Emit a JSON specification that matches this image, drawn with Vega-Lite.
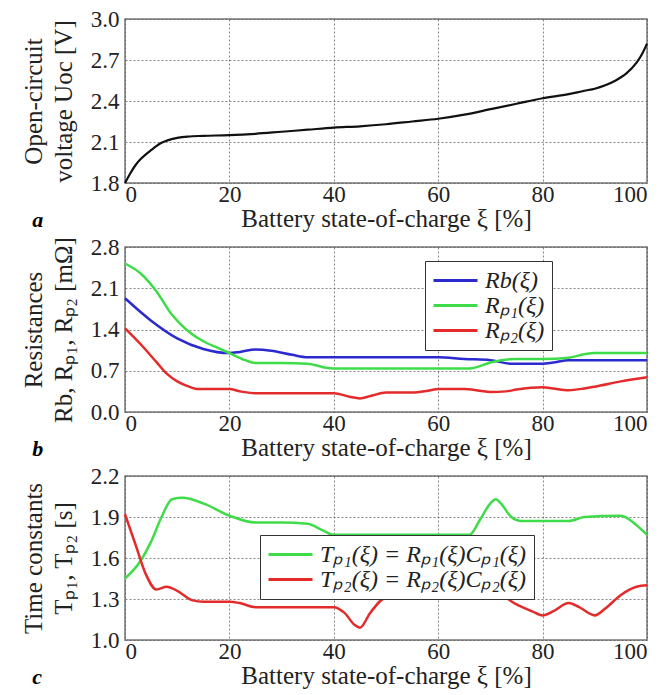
{
  "$schema": "https://vega.github.io/schema/vega-lite/v6.json",
  "padding": {"left": 20, "top": 7, "right": 10, "bottom": 0},
  "spacing": 3,
  "resolve": {"scale": {"color": "independent"}, "legend": {"color": "independent"}},
  "config": {
    "font": "Liberation Serif",
    "view": {"stroke": "#777", "strokeWidth": 1.5},
    "axis": {
      "labelFont": "Liberation Serif", "titleFont": "Liberation Serif",
      "labelFontSize": 23, "titleFontSize": 25, "titleFontWeight": "normal",
      "labelColor": "#222", "titleColor": "#222",
      "gridColor": "#555", "gridDash": [2, 2], "gridOpacity": 0.7,
      "domain": false, "ticks": false, "labelPadding": 4
    },
    "axisX": {"labelPadding": 0, "titlePadding": 0},
    "axisY": {"labelPadding": 6, "titlePadding": 14, "titleLineHeight": 30},
    "legend": {"labelFont": "Liberation Serif", "labelFontSize": 24, "labelFontStyle": "italic", "labelColor": "#222"},
    "title": {"font": "Liberation Serif"}
  },
  "datasets": {
    "uoc": [
      {"x": 0, "y": 1.8}, {"x": 1, "y": 1.87}, {"x": 2, "y": 1.93}, {"x": 3, "y": 1.975}, {"x": 4, "y": 2.01}, {"x": 5, "y": 2.04}, {"x": 6, "y": 2.07}, {"x": 7, "y": 2.095}, {"x": 8, "y": 2.11}, {"x": 10, "y": 2.13}, {"x": 12, "y": 2.14}, {"x": 15, "y": 2.145}, {"x": 20, "y": 2.15}, {"x": 25, "y": 2.16}, {"x": 30, "y": 2.175}, {"x": 35, "y": 2.19}, {"x": 40, "y": 2.205}, {"x": 45, "y": 2.215}, {"x": 50, "y": 2.23}, {"x": 55, "y": 2.25}, {"x": 60, "y": 2.27}, {"x": 65, "y": 2.3}, {"x": 70, "y": 2.34}, {"x": 75, "y": 2.38}, {"x": 80, "y": 2.42}, {"x": 85, "y": 2.45}, {"x": 88, "y": 2.475}, {"x": 90, "y": 2.49}, {"x": 92, "y": 2.515}, {"x": 94, "y": 2.55}, {"x": 96, "y": 2.6}, {"x": 98, "y": 2.68}, {"x": 99, "y": 2.74}, {"x": 100, "y": 2.82}
    ],
    "res": [
      {"x": 0, "y": 1.93, "s": "Rb(ξ)"}, {"x": 5, "y": 1.55, "s": "Rb(ξ)"}, {"x": 10, "y": 1.25, "s": "Rb(ξ)"}, {"x": 15, "y": 1.07, "s": "Rb(ξ)"}, {"x": 20, "y": 1.0, "s": "Rb(ξ)"}, {"x": 22, "y": 1.02, "s": "Rb(ξ)"}, {"x": 25, "y": 1.06, "s": "Rb(ξ)"}, {"x": 28, "y": 1.04, "s": "Rb(ξ)"}, {"x": 32, "y": 0.97, "s": "Rb(ξ)"}, {"x": 35, "y": 0.93, "s": "Rb(ξ)"}, {"x": 40, "y": 0.93, "s": "Rb(ξ)"}, {"x": 60, "y": 0.93, "s": "Rb(ξ)"}, {"x": 65, "y": 0.9, "s": "Rb(ξ)"}, {"x": 70, "y": 0.88, "s": "Rb(ξ)"}, {"x": 74, "y": 0.82, "s": "Rb(ξ)"}, {"x": 80, "y": 0.82, "s": "Rb(ξ)"}, {"x": 82, "y": 0.84, "s": "Rb(ξ)"}, {"x": 85, "y": 0.88, "s": "Rb(ξ)"}, {"x": 90, "y": 0.88, "s": "Rb(ξ)"}, {"x": 100, "y": 0.88, "s": "Rb(ξ)"},
      {"x": 0, "y": 2.52, "s": "Rₚ₁(ξ)"}, {"x": 3, "y": 2.35, "s": "Rₚ₁(ξ)"}, {"x": 6, "y": 2.05, "s": "Rₚ₁(ξ)"}, {"x": 9, "y": 1.65, "s": "Rₚ₁(ξ)"}, {"x": 12, "y": 1.38, "s": "Rₚ₁(ξ)"}, {"x": 15, "y": 1.2, "s": "Rₚ₁(ξ)"}, {"x": 18, "y": 1.08, "s": "Rₚ₁(ξ)"}, {"x": 20, "y": 1.0, "s": "Rₚ₁(ξ)"}, {"x": 23, "y": 0.88, "s": "Rₚ₁(ξ)"}, {"x": 25, "y": 0.83, "s": "Rₚ₁(ξ)"}, {"x": 30, "y": 0.83, "s": "Rₚ₁(ξ)"}, {"x": 35, "y": 0.82, "s": "Rₚ₁(ξ)"}, {"x": 38, "y": 0.76, "s": "Rₚ₁(ξ)"}, {"x": 40, "y": 0.74, "s": "Rₚ₁(ξ)"}, {"x": 60, "y": 0.74, "s": "Rₚ₁(ξ)"}, {"x": 66, "y": 0.74, "s": "Rₚ₁(ξ)"}, {"x": 70, "y": 0.84, "s": "Rₚ₁(ξ)"}, {"x": 72, "y": 0.88, "s": "Rₚ₁(ξ)"}, {"x": 75, "y": 0.9, "s": "Rₚ₁(ξ)"}, {"x": 80, "y": 0.9, "s": "Rₚ₁(ξ)"}, {"x": 85, "y": 0.92, "s": "Rₚ₁(ξ)"}, {"x": 88, "y": 0.98, "s": "Rₚ₁(ξ)"}, {"x": 90, "y": 1.0, "s": "Rₚ₁(ξ)"}, {"x": 100, "y": 1.0, "s": "Rₚ₁(ξ)"},
      {"x": 0, "y": 1.42, "s": "Rₚ₂(ξ)"}, {"x": 3, "y": 1.15, "s": "Rₚ₂(ξ)"}, {"x": 6, "y": 0.85, "s": "Rₚ₂(ξ)"}, {"x": 8, "y": 0.65, "s": "Rₚ₂(ξ)"}, {"x": 10, "y": 0.52, "s": "Rₚ₂(ξ)"}, {"x": 12, "y": 0.44, "s": "Rₚ₂(ξ)"}, {"x": 14, "y": 0.39, "s": "Rₚ₂(ξ)"}, {"x": 20, "y": 0.39, "s": "Rₚ₂(ξ)"}, {"x": 22, "y": 0.35, "s": "Rₚ₂(ξ)"}, {"x": 25, "y": 0.32, "s": "Rₚ₂(ξ)"}, {"x": 40, "y": 0.32, "s": "Rₚ₂(ξ)"}, {"x": 43, "y": 0.26, "s": "Rₚ₂(ξ)"}, {"x": 45, "y": 0.23, "s": "Rₚ₂(ξ)"}, {"x": 47, "y": 0.27, "s": "Rₚ₂(ξ)"}, {"x": 50, "y": 0.33, "s": "Rₚ₂(ξ)"}, {"x": 55, "y": 0.33, "s": "Rₚ₂(ξ)"}, {"x": 58, "y": 0.36, "s": "Rₚ₂(ξ)"}, {"x": 60, "y": 0.39, "s": "Rₚ₂(ξ)"}, {"x": 65, "y": 0.39, "s": "Rₚ₂(ξ)"}, {"x": 68, "y": 0.36, "s": "Rₚ₂(ξ)"}, {"x": 70, "y": 0.34, "s": "Rₚ₂(ξ)"}, {"x": 73, "y": 0.35, "s": "Rₚ₂(ξ)"}, {"x": 75, "y": 0.38, "s": "Rₚ₂(ξ)"}, {"x": 80, "y": 0.42, "s": "Rₚ₂(ξ)"}, {"x": 82, "y": 0.4, "s": "Rₚ₂(ξ)"}, {"x": 85, "y": 0.37, "s": "Rₚ₂(ξ)"}, {"x": 88, "y": 0.4, "s": "Rₚ₂(ξ)"}, {"x": 90, "y": 0.43, "s": "Rₚ₂(ξ)"}, {"x": 95, "y": 0.52, "s": "Rₚ₂(ξ)"}, {"x": 100, "y": 0.59, "s": "Rₚ₂(ξ)"}
    ],
    "tc": [
      {"x": 0, "y": 1.45, "s": "Tₚ₁(ξ) = Rₚ₁(ξ)Cₚ₁(ξ)"}, {"x": 3, "y": 1.58, "s": "Tₚ₁(ξ) = Rₚ₁(ξ)Cₚ₁(ξ)"}, {"x": 5, "y": 1.72, "s": "Tₚ₁(ξ) = Rₚ₁(ξ)Cₚ₁(ξ)"}, {"x": 7, "y": 1.9, "s": "Tₚ₁(ξ) = Rₚ₁(ξ)Cₚ₁(ξ)"}, {"x": 9, "y": 2.03, "s": "Tₚ₁(ξ) = Rₚ₁(ξ)Cₚ₁(ξ)"}, {"x": 11, "y": 2.04, "s": "Tₚ₁(ξ) = Rₚ₁(ξ)Cₚ₁(ξ)"}, {"x": 15, "y": 2.0, "s": "Tₚ₁(ξ) = Rₚ₁(ξ)Cₚ₁(ξ)"}, {"x": 20, "y": 1.91, "s": "Tₚ₁(ξ) = Rₚ₁(ξ)Cₚ₁(ξ)"}, {"x": 25, "y": 1.86, "s": "Tₚ₁(ξ) = Rₚ₁(ξ)Cₚ₁(ξ)"}, {"x": 30, "y": 1.86, "s": "Tₚ₁(ξ) = Rₚ₁(ξ)Cₚ₁(ξ)"}, {"x": 35, "y": 1.85, "s": "Tₚ₁(ξ) = Rₚ₁(ξ)Cₚ₁(ξ)"}, {"x": 38, "y": 1.8, "s": "Tₚ₁(ξ) = Rₚ₁(ξ)Cₚ₁(ξ)"}, {"x": 40, "y": 1.77, "s": "Tₚ₁(ξ) = Rₚ₁(ξ)Cₚ₁(ξ)"}, {"x": 60, "y": 1.77, "s": "Tₚ₁(ξ) = Rₚ₁(ξ)Cₚ₁(ξ)"}, {"x": 66, "y": 1.77, "s": "Tₚ₁(ξ) = Rₚ₁(ξ)Cₚ₁(ξ)"}, {"x": 68, "y": 1.88, "s": "Tₚ₁(ξ) = Rₚ₁(ξ)Cₚ₁(ξ)"}, {"x": 70, "y": 2.0, "s": "Tₚ₁(ξ) = Rₚ₁(ξ)Cₚ₁(ξ)"}, {"x": 71, "y": 2.03, "s": "Tₚ₁(ξ) = Rₚ₁(ξ)Cₚ₁(ξ)"}, {"x": 72, "y": 2.0, "s": "Tₚ₁(ξ) = Rₚ₁(ξ)Cₚ₁(ξ)"}, {"x": 74, "y": 1.9, "s": "Tₚ₁(ξ) = Rₚ₁(ξ)Cₚ₁(ξ)"}, {"x": 76, "y": 1.87, "s": "Tₚ₁(ξ) = Rₚ₁(ξ)Cₚ₁(ξ)"}, {"x": 85, "y": 1.87, "s": "Tₚ₁(ξ) = Rₚ₁(ξ)Cₚ₁(ξ)"}, {"x": 88, "y": 1.9, "s": "Tₚ₁(ξ) = Rₚ₁(ξ)Cₚ₁(ξ)"}, {"x": 95, "y": 1.91, "s": "Tₚ₁(ξ) = Rₚ₁(ξ)Cₚ₁(ξ)"}, {"x": 98, "y": 1.84, "s": "Tₚ₁(ξ) = Rₚ₁(ξ)Cₚ₁(ξ)"}, {"x": 100, "y": 1.77, "s": "Tₚ₁(ξ) = Rₚ₁(ξ)Cₚ₁(ξ)"},
      {"x": 0, "y": 1.92, "s": "Tₚ₂(ξ) = Rₚ₂(ξ)Cₚ₂(ξ)"}, {"x": 2, "y": 1.7, "s": "Tₚ₂(ξ) = Rₚ₂(ξ)Cₚ₂(ξ)"}, {"x": 4, "y": 1.48, "s": "Tₚ₂(ξ) = Rₚ₂(ξ)Cₚ₂(ξ)"}, {"x": 6, "y": 1.37, "s": "Tₚ₂(ξ) = Rₚ₂(ξ)Cₚ₂(ξ)"}, {"x": 8, "y": 1.39, "s": "Tₚ₂(ξ) = Rₚ₂(ξ)Cₚ₂(ξ)"}, {"x": 10, "y": 1.36, "s": "Tₚ₂(ξ) = Rₚ₂(ξ)Cₚ₂(ξ)"}, {"x": 13, "y": 1.29, "s": "Tₚ₂(ξ) = Rₚ₂(ξ)Cₚ₂(ξ)"}, {"x": 15, "y": 1.28, "s": "Tₚ₂(ξ) = Rₚ₂(ξ)Cₚ₂(ξ)"}, {"x": 20, "y": 1.28, "s": "Tₚ₂(ξ) = Rₚ₂(ξ)Cₚ₂(ξ)"}, {"x": 22, "y": 1.27, "s": "Tₚ₂(ξ) = Rₚ₂(ξ)Cₚ₂(ξ)"}, {"x": 25, "y": 1.24, "s": "Tₚ₂(ξ) = Rₚ₂(ξ)Cₚ₂(ξ)"}, {"x": 40, "y": 1.24, "s": "Tₚ₂(ξ) = Rₚ₂(ξ)Cₚ₂(ξ)"}, {"x": 42, "y": 1.2, "s": "Tₚ₂(ξ) = Rₚ₂(ξ)Cₚ₂(ξ)"}, {"x": 44, "y": 1.11, "s": "Tₚ₂(ξ) = Rₚ₂(ξ)Cₚ₂(ξ)"}, {"x": 45, "y": 1.09, "s": "Tₚ₂(ξ) = Rₚ₂(ξ)Cₚ₂(ξ)"}, {"x": 47, "y": 1.2, "s": "Tₚ₂(ξ) = Rₚ₂(ξ)Cₚ₂(ξ)"}, {"x": 50, "y": 1.31, "s": "Tₚ₂(ξ) = Rₚ₂(ξ)Cₚ₂(ξ)"}, {"x": 55, "y": 1.32, "s": "Tₚ₂(ξ) = Rₚ₂(ξ)Cₚ₂(ξ)"}, {"x": 60, "y": 1.33, "s": "Tₚ₂(ξ) = Rₚ₂(ξ)Cₚ₂(ξ)"}, {"x": 65, "y": 1.33, "s": "Tₚ₂(ξ) = Rₚ₂(ξ)Cₚ₂(ξ)"}, {"x": 70, "y": 1.35, "s": "Tₚ₂(ξ) = Rₚ₂(ξ)Cₚ₂(ξ)"}, {"x": 72, "y": 1.33, "s": "Tₚ₂(ξ) = Rₚ₂(ξ)Cₚ₂(ξ)"}, {"x": 75, "y": 1.26, "s": "Tₚ₂(ξ) = Rₚ₂(ξ)Cₚ₂(ξ)"}, {"x": 78, "y": 1.21, "s": "Tₚ₂(ξ) = Rₚ₂(ξ)Cₚ₂(ξ)"}, {"x": 80, "y": 1.18, "s": "Tₚ₂(ξ) = Rₚ₂(ξ)Cₚ₂(ξ)"}, {"x": 82, "y": 1.21, "s": "Tₚ₂(ξ) = Rₚ₂(ξ)Cₚ₂(ξ)"}, {"x": 85, "y": 1.27, "s": "Tₚ₂(ξ) = Rₚ₂(ξ)Cₚ₂(ξ)"}, {"x": 87, "y": 1.24, "s": "Tₚ₂(ξ) = Rₚ₂(ξ)Cₚ₂(ξ)"}, {"x": 90, "y": 1.18, "s": "Tₚ₂(ξ) = Rₚ₂(ξ)Cₚ₂(ξ)"}, {"x": 92, "y": 1.23, "s": "Tₚ₂(ξ) = Rₚ₂(ξ)Cₚ₂(ξ)"}, {"x": 95, "y": 1.33, "s": "Tₚ₂(ξ) = Rₚ₂(ξ)Cₚ₂(ξ)"}, {"x": 98, "y": 1.39, "s": "Tₚ₂(ξ) = Rₚ₂(ξ)Cₚ₂(ξ)"}, {"x": 100, "y": 1.4, "s": "Tₚ₂(ξ) = Rₚ₂(ξ)Cₚ₂(ξ)"}
    ]
  },
  "vconcat": [
    {
      "width": 522, "height": 164,
      "title": {"text": "a", "orient": "bottom", "anchor": "start", "frame": "bounds", "fontSize": 22, "fontStyle": "italic", "fontWeight": "bold", "dx": 11, "offset": -21},
      "data": {"name": "uoc"},
      "mark": {"type": "line", "color": "#111", "strokeWidth": 2.2, "interpolate": "monotone"},
      "encoding": {
        "x": {"field": "x", "type": "quantitative", "scale": {"domain": [0, 100], "nice": false}, "axis": {"values": [0, 20, 40, 60, 80, 100], "title": "Battery state-of-charge ξ [%]"}},
        "y": {"field": "y", "type": "quantitative", "scale": {"domain": [1.8, 3.0], "nice": false, "zero": false}, "axis": {"values": [1.8, 2.1, 2.4, 2.7, 3.0], "format": ".1f", "title": ["Open-circuit", "voltage Uoc [V]"]}}
      }
    },
    {
      "width": 522, "height": 165,
      "title": {"text": "b", "orient": "bottom", "anchor": "start", "frame": "bounds", "fontSize": 22, "fontStyle": "italic", "fontWeight": "bold", "dx": 11, "offset": -21},
      "data": {"name": "res"},
      "mark": {"type": "line", "strokeWidth": 2.5, "interpolate": "monotone"},
      "encoding": {
        "x": {"field": "x", "type": "quantitative", "scale": {"domain": [0, 100], "nice": false}, "axis": {"values": [0, 20, 40, 60, 80, 100], "title": "Battery state-of-charge ξ [%]"}},
        "y": {"field": "y", "type": "quantitative", "scale": {"domain": [0, 2.8], "nice": false}, "axis": {"values": [0, 0.7, 1.4, 2.1, 2.8], "format": ".1f", "title": ["Resistances", "Rb, Rₚ₁, Rₚ₂ [mΩ]"]}},
        "color": {"field": "s", "type": "nominal", "scale": {"domain": ["Rb(ξ)", "Rₚ₁(ξ)", "Rₚ₂(ξ)"], "range": ["#2a2ad0", "#3fdc4a", "#e42a2a"]},
          "legend": {"title": null, "orient": "none", "legendX": 300, "legendY": 14, "symbolType": "M-1,0H3", "symbolSize": 484, "symbolStrokeWidth": 3, "strokeColor": "#333", "fillColor": "white", "padding": 7, "rowPadding": 0, "labelOffset": 28}}
      }
    },
    {
      "width": 522, "height": 164,
      "title": {"text": "c", "orient": "bottom", "anchor": "start", "frame": "bounds", "fontSize": 22, "fontStyle": "italic", "fontWeight": "bold", "dx": 11, "offset": -21},
      "data": {"name": "tc"},
      "mark": {"type": "line", "strokeWidth": 2.5, "interpolate": "monotone"},
      "encoding": {
        "x": {"field": "x", "type": "quantitative", "scale": {"domain": [0, 100], "nice": false}, "axis": {"values": [0, 20, 40, 60, 80, 100], "title": "Battery state-of-charge ξ [%]"}},
        "y": {"field": "y", "type": "quantitative", "scale": {"domain": [1.0, 2.2], "nice": false, "zero": false}, "axis": {"values": [1.0, 1.3, 1.6, 1.9, 2.2], "format": ".1f", "title": ["Time constants", "Tₚ₁, Tₚ₂ [s]"]}},
        "color": {"field": "s", "type": "nominal", "scale": {"domain": ["Tₚ₁(ξ) = Rₚ₁(ξ)Cₚ₁(ξ)", "Tₚ₂(ξ) = Rₚ₂(ξ)Cₚ₂(ξ)"], "range": ["#3fdc4a", "#e42a2a"]},
          "legend": {"title": null, "orient": "none", "legendX": 135, "legendY": 59, "symbolType": "M-1,0H3", "symbolSize": 484, "symbolStrokeWidth": 3, "strokeColor": "#333", "fillColor": "white", "padding": 7, "rowPadding": 0, "labelOffset": 28, "labelLimit": 400}}
      }
    }
  ]
}
